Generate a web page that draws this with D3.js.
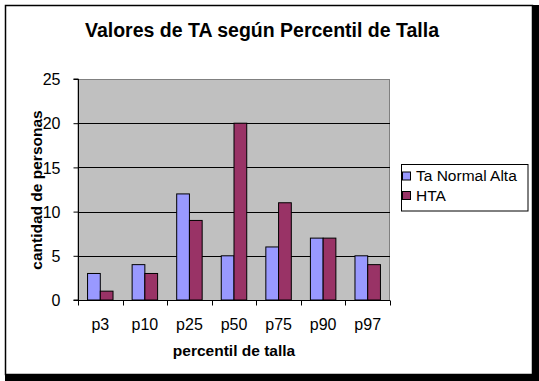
<!DOCTYPE html>
<html><head><meta charset="utf-8">
<script src="https://cdn.jsdelivr.net/npm/d3@7"></script>
<style>body{margin:0;background:#fff}svg{display:block}text{font-family:"Liberation Sans",Arial,sans-serif}</style>
</head><body>
<svg id="c" width="539" height="381"></svg>
<script>
const categories = ["p3","p10","p25","p50","p75","p90","p97"];
const seriesNames = ["Ta Normal Alta","HTA"];
const normalAlta = [3,4,12,5,6,7,5];
const hta = [1,3,9,20,11,7,4];
const yTicks = [0,5,10,15,20,25];
const colors = ["#9999FF","#993366"];

const svg = d3.select("#c");
// frame + shadow
svg.append("rect").attr("x",532).attr("y",5).attr("width",7).attr("height",376).attr("fill","#000");
svg.append("rect").attr("x",5).attr("y",374).attr("width",534).attr("height",7).attr("fill","#000");
svg.append("rect").attr("x",5.5).attr("y",5.5).attr("width",527).attr("height",369).attr("fill","#fff").attr("stroke","#000").attr("stroke-width",1.5);

const L=78,R=390,T=79,B=300;
const x = d3.scaleBand().domain(categories).range([L,R]).paddingInner(0).paddingOuter(0);
const y = d3.scaleLinear().domain([0,25]).range([B,T]);

svg.append("rect").attr("x",L).attr("y",T+0.5).attr("width",R-L-0.5).attr("height",B-T).attr("fill","#C0C0C0").attr("stroke","#808080").attr("stroke-width",1);

svg.append("g").selectAll("line").data(yTicks.filter(d=>d>0&&d<25)).join("line")
  .attr("x1",L).attr("x2",R).attr("y1",d=>Math.round(y(d))+0.5).attr("y2",d=>Math.round(y(d))+0.5)
  .attr("stroke","#000").attr("stroke-width",1);

const bw = x.bandwidth()/3.5;
const data = [normalAlta,hta];
data.forEach((vals,si)=>{
  svg.append("g").selectAll("rect").data(vals).join("rect")
    .attr("x",(d,i)=>x(categories[i])+bw*0.75+si*bw)
    .attr("y",d=>y(d)).attr("width",bw).attr("height",d=>B-y(d))
    .attr("fill",colors[si]).attr("stroke","#000").attr("stroke-width",1);
});

const fam = '"Liberation Sans",Arial,sans-serif';
// axes
const yAxis = d3.axisLeft(y).tickValues(yTicks).tickSize(5).tickPadding(13);
const gy = svg.append("g").attr("transform",`translate(${L+0.5},0)`).call(yAxis);
const xAxis = d3.axisBottom(x).tickSize(0).tickPadding(0);
const gx = svg.append("g").attr("transform",`translate(0,${B+0.5})`).call(xAxis);
gx.selectAll(".tick text").attr("dy",null).attr("y",29);
gy.selectAll(".tick text").attr("dy","0.36em");
const bounds = categories.map(c=>x(c)).concat([R]);
gx.selectAll(".bt").data(bounds).join("line").attr("class","bt")
  .attr("x1",d=>Math.round(d)+0.5).attr("x2",d=>Math.round(d)+0.5).attr("y1",0).attr("y2",5).attr("stroke","#000");
[gy,gx].forEach(g=>{
  g.select(".domain").attr("stroke","#000").attr("stroke-width",1);
  g.selectAll(".tick line").attr("stroke","#000");
  g.selectAll("text").attr("font-size",16).attr("fill","#000").style("font-family",fam);
});
gy.select(".domain").attr("d",`M-5,${y(0)}H0V${y(25)}H-5`);
gx.select(".domain").attr("d",`M${L},0H${R}`);

// titles
svg.append("text").attr("x",262).attr("y",37).attr("text-anchor","middle").attr("font-size",19.5).attr("font-weight","bold").text("Valores de TA según Percentil de Talla");
svg.append("text").attr("x",234).attr("y",356).attr("text-anchor","middle").attr("font-size",15.5).attr("font-weight","bold").text("percentil de talla");
svg.append("text").attr("transform","translate(42,190) rotate(-90)").attr("text-anchor","middle").attr("font-size",15.5).attr("font-weight","bold").text("cantidad de personas");

// legend
const lg = svg.append("g");
lg.append("rect").attr("x",401.5).attr("y",164.5).attr("width",126.5).attr("height",46.5).attr("fill","#fff").attr("stroke","#000");
seriesNames.forEach((n,i)=>{
  const cy = 175.5 + i*19.5;
  lg.append("rect").attr("x",402.5).attr("y",cy-3.5).attr("width",8).attr("height",8).attr("fill",colors[i]).attr("stroke","#000");
  lg.append("text").attr("x",416).attr("y",cy+5.5).attr("font-size",15.5).text(n);
});
</script>
</body></html>
